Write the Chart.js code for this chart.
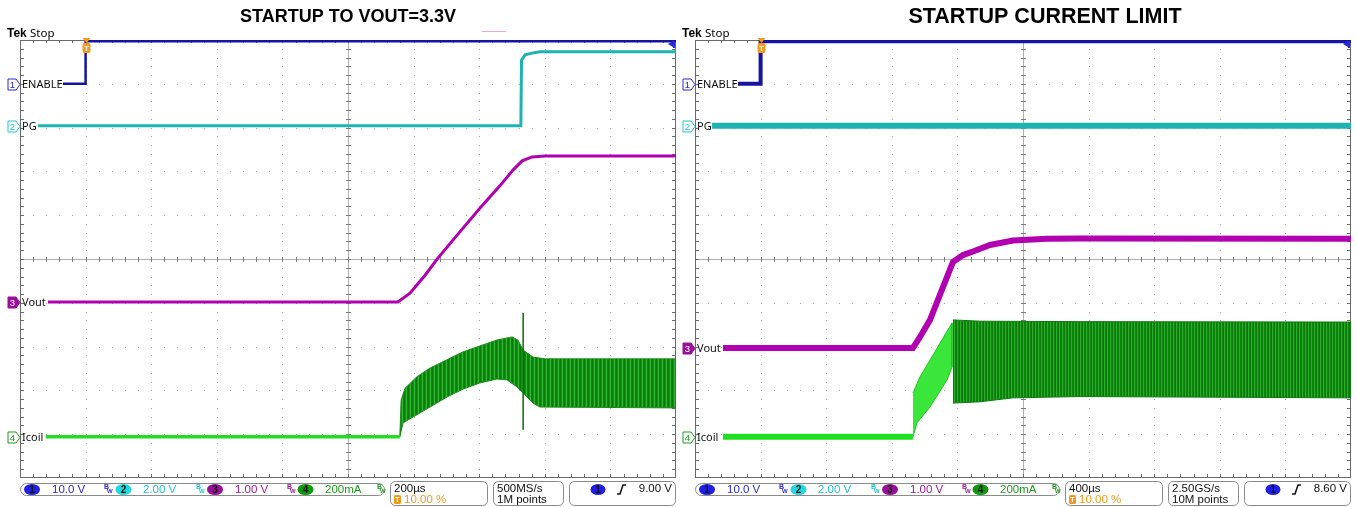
<!DOCTYPE html>
<html>
<head>
<meta charset="utf-8">
<script src="https://cdn.jsdelivr.net/npm/chart.js@4.4.1/dist/chart.umd.min.js"></script>
<style>
html, body { margin: 0; padding: 0; background: #fff; }
body { width: 1357px; height: 507px; position: relative; overflow: hidden; }
canvas { position: absolute; top: 0; }
#scopeLeft { left: 0; }
#scopeRight { left: 680px; }
</style>
</head>
<body>
<canvas id="scopeLeft" width="680" height="507"></canvas>
<canvas id="scopeRight" width="677" height="507"></canvas>
<script>
// points are [time in µs, screen position in divisions 0..10]
var channelNames = ['ENABLE', 'PG', 'Vout', 'Icoil'];
var channelScales = ['10.0 V', '2.00 V', '1.00 V', '200mA'];

// left screen: 200µs/div, trigger at 10 %
var leftTitle = 'STARTUP TO VOUT=3.3V';
var leftRange = [-200, 1800];
var leftInfo = ['200µs', '10.00 %', '500MS/s', '1M points', '9.00 V'];
var leftEnable = [[-69, 9.0], [0, 9.0], [0, 9.97], [1800, 9.97]];
var leftPg = [[-145, 8.04], [1327, 8.04], [1329, 9.54], [1340, 9.66], [1361, 9.70], [1385, 9.73], [1800, 9.73]];
var leftVout = [[-115, 4.02], [952, 4.02], [989, 4.22], [1035, 4.63], [1074, 5.02], [1141, 5.62], [1202, 6.16],
  [1263, 6.67], [1303, 7.03], [1331, 7.24], [1361, 7.33], [1401, 7.35], [1800, 7.35]];
var leftIcoil = [[-121, 0.94], [958, 0.94]];
var leftIcoilHigh = [[958, 0.94], [962, 1.78], [974, 2.05], [1010, 2.31], [1050, 2.51], [1151, 2.88], [1254, 3.15],
  [1300, 3.22], [1318, 3.15], [1334, 2.92], [1364, 2.76], [1401, 2.72], [1800, 2.72]];
var leftIcoilLow = [[958, 0.94], [968, 1.26], [998, 1.39], [1050, 1.62], [1102, 1.85], [1151, 2.03], [1202, 2.17],
  [1254, 2.26], [1285, 2.24], [1315, 2.08], [1346, 1.85], [1364, 1.71], [1385, 1.62], [1800, 1.60]];
var leftIcoilSpike = [[1334, 3.77], [1334, 1.10]];

// right screen: 400µs/div, trigger at 10 %
var rightTitle = 'STARTUP CURRENT LIMIT';
var rightRange = [-400, 3600];
var rightInfo = ['400µs', '10.00 %', '2.50GS/s', '10M points', '8.60 V'];
var rightEnable = [[-138, 9.0], [0, 9.0], [0, 9.97], [3600, 9.97]];
var rightPg = [[-296, 8.04], [3600, 8.04]];
var rightVout = [[-229, 2.97], [929, 2.97], [972, 3.22], [1033, 3.61], [1112, 4.36], [1173, 4.93], [1234, 5.09],
  [1295, 5.17], [1399, 5.32], [1539, 5.42], [1746, 5.46], [1948, 5.47], [3600, 5.46]];
var rightIcoil = [[-229, 0.94], [929, 0.94]];
var rightRampHigh = [[929, 1.94], [972, 2.31], [1033, 2.69], [1094, 3.08], [1167, 3.54]];
var rightRampLow = [[929, 0.94], [954, 1.26], [1033, 1.62], [1137, 2.24], [1167, 2.53]];
var rightIcoilHigh = [[1173, 3.61], [1338, 3.58], [1948, 3.57], [3600, 3.56]];
var rightIcoilLow = [[1173, 1.71], [1338, 1.74], [1539, 1.83], [1948, 1.86], [3600, 1.83]];

var chColors = ['#14149e', '#1fb2b2', '#b000b0', '#22dd22'];
var chText = ['#2a2ad0', '#22c4d4', '#a0189c', '#1c9c1c'];
var chBadge = ['#1f1fe8', '#22d8e0', '#98109a', '#0e980e'];
var orange = '#f29a1e';

function pts(arr) {
  return arr.map(function(p) { return {x: p[0], y: p[1]}; });
}

function band(high, low) {
  return pts(high.concat(low.slice().reverse()));
}

function stripes(canvasId, cols) {
  var c = document.createElement('canvas');
  c.width = cols.length; c.height = 1;
  var g = c.getContext('2d');
  cols.forEach(function(col, i) { g.fillStyle = col; g.fillRect(i, 0, 1, 1); });
  return document.getElementById(canvasId).getContext('2d').createPattern(c, 'repeat');
}

function trace(data, color, width) {
  return {data: pts(data), borderColor: color, borderWidth: width, fill: false, pointRadius: 0};
}

var decos = {
  scopeLeft: {title: leftTitle, titleX: 348, titleSize: 18, info: leftInfo, busy: true,
    levels: [leftEnable[0][1], leftPg[0][1], leftVout[0][1], leftIcoil[0][1]]},
  scopeRight: {title: rightTitle, titleX: 365, titleSize: 21.5, info: rightInfo, busy: false,
    levels: [rightEnable[0][1], rightPg[0][1], rightVout[0][1], rightIcoil[0][1]]}
};

function drawGraticule(chart) {
  var ctx = chart.ctx, a = chart.chartArea, x = chart.scales.x, y = chart.scales.y;
  var xs = [], ys = [];
  for (var i = 0; i <= 50; i++) {
    xs.push(Math.round(x.getPixelForValue(x.min + (x.max - x.min) * i / 50)));
    ys.push(Math.round(y.getPixelForValue(y.min + (y.max - y.min) * i / 50)));
  }
  ctx.save();
  ctx.fillStyle = '#a2a2a2';
  for (var k = 1; k < 10; k++) {
    if (k === 5) continue;
    for (var j = 1; j < 50; j++) {
      ctx.fillRect(xs[k * 5], ys[j], 1, 1);
      ctx.fillRect(xs[j], ys[k * 5], 1, 1);
    }
  }
  var cx = xs[25], cy = ys[25];
  ctx.fillStyle = '#b0b0b0';
  ctx.fillRect(a.left, cy, a.right - a.left, 1);
  ctx.fillRect(cx, a.top, 1, a.bottom - a.top);
  ctx.fillStyle = '#7c7c7c';
  for (j = 1; j < 50; j++) {
    ctx.fillRect(xs[j], cy - 2, 1, 5);
    ctx.fillRect(cx - 2, ys[j], 5, 1);
  }
  ctx.fillStyle = '#6a6a6a';
  ctx.fillRect(a.left, a.top, 1, a.bottom - a.top);
  ctx.fillRect(a.right - 1, a.top, 1, a.bottom - a.top);
  ctx.fillRect(a.left, a.bottom - 1, a.right - a.left, 1);
  ctx.fillRect(a.left, a.top, a.right - a.left, 1);
  for (j = 1; j < 50; j++) {
    ctx.fillRect(a.left, ys[j], 4, 1);
    ctx.fillRect(a.right - 4, ys[j], 4, 1);
    ctx.fillRect(xs[j], a.bottom - 4, 1, 4);
    ctx.fillRect(xs[j], a.top, 1, 3);
  }
  ctx.restore();
}

function drawTag(ctx, tip, yc, n) {
  ctx.beginPath();
  ctx.moveTo(tip - 12, yc - 5.5);
  ctx.lineTo(tip - 4, yc - 5.5);
  ctx.lineTo(tip, yc);
  ctx.lineTo(tip - 4, yc + 5.5);
  ctx.lineTo(tip - 12, yc + 5.5);
  ctx.closePath();
  ctx.fillStyle = n === 2 ? chBadge[2] : '#fff';
  ctx.fill();
  ctx.lineWidth = 1;
  ctx.strokeStyle = n === 2 ? chBadge[2] : chText[n];
  ctx.stroke();
  ctx.fillStyle = n === 2 ? '#fff' : chText[n];
  ctx.font = '9.5px "Liberation Sans"';
  ctx.textAlign = 'center';
  ctx.textBaseline = 'middle';
  ctx.fillText(String(n + 1), tip - 7.5, yc + 0.5);
}

function drawMarkers(chart) {
  var d = decos[chart.canvas.id];
  var ctx = chart.ctx, a = chart.chartArea, x = chart.scales.x, y = chart.scales.y;
  ctx.save();
  // title
  ctx.fillStyle = '#000';
  ctx.font = 'bold ' + d.titleSize + 'px "Liberation Sans"';
  ctx.textAlign = 'center';
  ctx.textBaseline = 'middle';
  ctx.fillText(d.title, d.titleX, 17);
  // Tek Stop
  ctx.textAlign = 'left';
  ctx.textBaseline = 'alphabetic';
  ctx.font = 'bold 12px "Liberation Sans"';
  ctx.fillText('Tek', a.left - 13, 37);
  ctx.font = '11.5px "Noto Sans"';
  ctx.fillText('Stop', a.left + 10, 37);
  if (d.busy) {
    ctx.fillStyle = '#e6a8e6';
    ctx.fillRect(a.left + 462, 31, 24, 1);
  }
  // channel tags and names
  for (var i = 0; i < 4; i++) {
    var yc = Math.round(y.getPixelForValue(d.levels[i])) + 0.5;
    drawTag(ctx, a.left, yc, i);
    ctx.fillStyle = '#111';
    ctx.font = '11px "Noto Sans"';
    ctx.textAlign = 'left';
    ctx.textBaseline = 'middle';
    ctx.fillText(channelNames[i], a.left + 2, yc);
  }
  // trigger position flag
  var tx = Math.round(x.getPixelForValue(0)) + 0.5;
  ctx.fillStyle = orange;
  ctx.beginPath();
  ctx.moveTo(tx - 4, a.top - 2); ctx.lineTo(tx + 4, a.top - 2); ctx.lineTo(tx, a.top + 3);
  ctx.closePath(); ctx.fill();
  ctx.beginPath();
  ctx.roundRect(tx - 4, a.top + 3, 8, 10, 2);
  ctx.fill();
  ctx.fillStyle = '#fff';
  ctx.font = 'bold 8px "Liberation Sans"';
  ctx.textAlign = 'center';
  ctx.fillText('T', tx, a.top + 8.5);
  // trigger level arrow
  ctx.fillStyle = '#2828e0';
  ctx.beginPath();
  ctx.moveTo(a.right - 8, a.top + 4); ctx.lineTo(a.right - 3, a.top + 1); ctx.lineTo(a.right - 3, a.top + 7);
  ctx.closePath(); ctx.fill();
  ctx.fillRect(a.right - 3, a.top + 1, 2, 7);
  ctx.restore();
}

function drawBw(ctx, bx, col) {
  ctx.fillStyle = col;
  ctx.font = 'bold 7px "Liberation Sans"';
  ctx.textAlign = 'left';
  ctx.textBaseline = 'alphabetic';
  ctx.fillText('B', bx, 489);
  ctx.font = 'bold 6px "Liberation Sans"';
  ctx.fillText('W', bx + 3, 493);
}

function drawStatus(chart) {
  var d = decos[chart.canvas.id];
  var ctx = chart.ctx, x0 = chart.chartArea.left;
  ctx.save();
  ctx.strokeStyle = '#8a8a8a';
  ctx.lineWidth = 1;
  ctx.beginPath(); ctx.roundRect(x0 + 0.5, 483.5, 364, 12, 6); ctx.stroke();
  ctx.beginPath(); ctx.roundRect(x0 + 370.5, 481.5, 97, 24, 5); ctx.stroke();
  ctx.beginPath(); ctx.roundRect(x0 + 473.5, 481.5, 70, 24, 5); ctx.stroke();
  ctx.beginPath(); ctx.roundRect(x0 + 549.5, 481.5, 106, 24, 5); ctx.stroke();
  var badgeX = [12, 103.5, 195, 285.5];
  var textX = [32, 123, 215, 305];
  var bwX = [84, 176, 267, 357];
  for (var i = 0; i < 4; i++) {
    ctx.fillStyle = chBadge[i];
    ctx.beginPath();
    ctx.ellipse(x0 + badgeX[i], 489.5, 8, 5.5, 0, 0, Math.PI * 2);
    ctx.fill();
    ctx.fillStyle = '#111';
    ctx.font = 'bold 10px "Liberation Sans"';
    ctx.textAlign = 'center';
    ctx.textBaseline = 'middle';
    ctx.fillText(String(i + 1), x0 + badgeX[i], 490);
    ctx.fillStyle = chText[i];
    ctx.font = '11.5px "Liberation Sans"';
    ctx.textAlign = 'left';
    ctx.fillText(channelScales[i], x0 + textX[i], 490);
    drawBw(ctx, x0 + bwX[i], chText[i]);
  }
  ctx.fillStyle = '#111';
  ctx.font = '11.5px "Liberation Sans"';
  ctx.textAlign = 'left';
  ctx.textBaseline = 'middle';
  ctx.fillText(d.info[0], x0 + 374, 489);
  ctx.fillText(d.info[2], x0 + 477, 489);
  ctx.fillText(d.info[3], x0 + 477, 500);
  // trigger position percent
  ctx.fillStyle = orange;
  ctx.beginPath(); ctx.roundRect(x0 + 374, 495, 7, 9, 1.5); ctx.fill();
  ctx.fillStyle = '#fff';
  ctx.font = 'bold 7px "Liberation Sans"';
  ctx.textAlign = 'center';
  ctx.fillText('T', x0 + 377.5, 500);
  ctx.fillStyle = orange;
  ctx.font = '11.5px "Liberation Sans"';
  ctx.textAlign = 'left';
  ctx.fillText(d.info[1], x0 + 384, 500);
  // trigger source, slope and level
  ctx.fillStyle = chBadge[0];
  ctx.beginPath(); ctx.ellipse(x0 + 578, 489.5, 7.5, 5.5, 0, 0, Math.PI * 2); ctx.fill();
  ctx.fillStyle = '#111';
  ctx.font = 'bold 10px "Liberation Sans"';
  ctx.textAlign = 'center';
  ctx.fillText('1', x0 + 578, 490);
  ctx.strokeStyle = '#111';
  ctx.lineWidth = 1.5;
  ctx.beginPath();
  ctx.moveTo(x0 + 597, 494); ctx.lineTo(x0 + 600, 494); ctx.lineTo(x0 + 603, 485); ctx.lineTo(x0 + 606, 485);
  ctx.stroke();
  ctx.font = '11.5px "Liberation Sans"';
  ctx.textAlign = 'right';
  ctx.fillText(d.info[4], x0 + 652, 489);
  ctx.restore();
}

var scopeDecor = {
  id: 'scopeDecor',
  beforeDatasetsDraw: function(chart) { drawGraticule(chart); },
  afterDatasetsDraw: function(chart) { drawMarkers(chart); },
  afterDraw: function(chart) { drawStatus(chart); }
};

function scopeChart(id, range, pad, datasets) {
  return new Chart(document.getElementById(id), {
    type: 'line',
    data: {datasets: datasets},
    options: {
      responsive: false,
      animation: false,
      events: [],
      layout: {padding: pad},
      elements: {line: {tension: 0}, point: {radius: 0}},
      plugins: {legend: {display: false}, tooltip: {enabled: false}},
      scales: {
        x: {type: 'linear', min: range[0], max: range[1], display: false},
        y: {type: 'linear', min: 0, max: 10, display: false}
      }
    },
    plugins: [scopeDecor]
  });
}

var leftBandFill = stripes('scopeLeft', ['#0a7a0a', '#12901a', '#2fb52f', '#0e860e']);
var rightBandFill = stripes('scopeRight', ['#0a7a0a', '#2cae2c', '#0e860e']);

scopeChart('scopeLeft', leftRange, {left: 20, right: 4, top: 40, bottom: 29}, [
  trace(leftEnable, chColors[0], 2.5),
  trace(leftPg, chColors[1], 3),
  trace(leftVout, chColors[2], 3),
  trace(leftIcoil, chColors[3], 3.5),
  trace(leftIcoilSpike, '#0b6e0b', 1.5),
  {data: band(leftIcoilHigh, leftIcoilLow), fill: 'shape', backgroundColor: leftBandFill,
    borderColor: '#1a8c1a', borderWidth: 1, pointRadius: 0}
]);

scopeChart('scopeRight', rightRange, {left: 15, right: 6, top: 40, bottom: 29}, [
  trace(rightEnable, chColors[0], 4),
  trace(rightPg, chColors[1], 6),
  trace(rightVout, chColors[2], 6),
  trace(rightIcoil, chColors[3], 6),
  {data: band(rightRampHigh, rightRampLow), fill: 'shape', backgroundColor: '#3ae63a',
    borderColor: '#1fc41f', borderWidth: 1, pointRadius: 0},
  {data: band(rightIcoilHigh, rightIcoilLow), fill: 'shape', backgroundColor: rightBandFill,
    borderColor: '#0c780c', borderWidth: 1, pointRadius: 0}
]);
</script>
</body>
</html>
